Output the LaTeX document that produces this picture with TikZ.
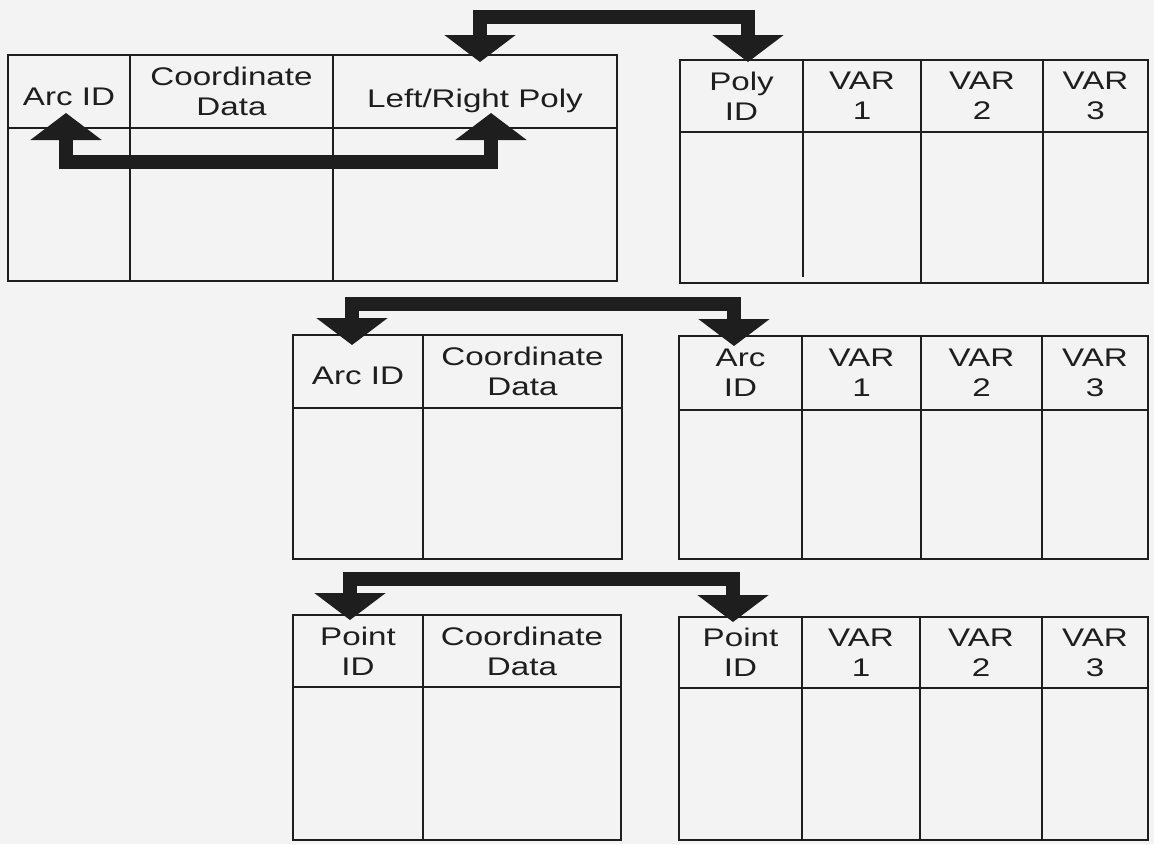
\documentclass[tikz,border=0pt]{standalone}
\usepackage{fontspec}
\setmainfont[FakeStretch=1.3]{Liberation Sans}
\usetikzlibrary{arrows.meta}
\definecolor{ink}{HTML}{1E1E1E}
\definecolor{paper}{HTML}{F3F3F3}
\newcommand\hcell[6]{\node[cell, minimum width={(#3-#2)*1pt}, minimum height={(#5-#4)*1pt}] (#1) at ({(#2+#3)/2},{(#4+#5)/2}) {#6};}
\newcommand\lowtext[2]{\raisebox{-#1}[0pt][0pt]{#2}}
\begin{document}
\begin{tikzpicture}[x=1pt,y=-1pt,
  line width=2.8pt, line join=miter, draw=ink,
  cell/.style={draw=ink, line width=2.8pt, inner sep=0pt, outer sep=0pt, align=center,
    text=ink, font=\fontsize{25.5}{30}\selectfont},
  body/.style={draw=ink, line width=2.8pt},
  link/.style={draw=ink, line width=14pt, line join=miter,
    {Triangle[width=70pt,length=27pt]}-{Triangle[width=70pt,length=27pt]}},
]
\fill[paper] (0,0) rectangle (1154,844);
\useasboundingbox (0,0) rectangle (1154,844);

% Table 1
\hcell{t1a}{8}{130}{55}{128}{\lowtext{14pt}{Arc ID}}
\hcell{t1b}{130}{333}{55}{128}{Coordinate\\Data}
\hcell{t1c}{333}{617}{55}{128}{\lowtext{16pt}{Left/Right Poly}}
\draw[body] (8,128) rectangle (617,281) (130,128) -- (130,281) (333,128) -- (333,281);

% Table 2
\hcell{t2a}{680}{803}{60}{132}{Poly\\ID}
\hcell{t2b}{803}{921}{60}{132}{VAR\\1}
\hcell{t2c}{921}{1043}{60}{132}{VAR\\2}
\hcell{t2d}{1043}{1148}{60}{132}{VAR\\3}
\draw[body] (680,132) rectangle (1148,283) (803,132) -- (803,277) (921,132) -- (921,283) (1043,132) -- (1043,283);

% Table 3
\hcell{t3a}{293}{423}{335}{408}{\lowtext{12.5pt}{Arc ID}}
\hcell{t3b}{423}{622}{335}{408}{Coordinate\\Data}
\draw[body] (293,408) rectangle (622,559) (423,408) -- (423,559);

% Table 4
\hcell{t4a}{679}{802}{336}{410}{Arc\\ID}
\hcell{t4b}{802}{921}{336}{410}{VAR\\1}
\hcell{t4c}{921}{1042}{336}{410}{VAR\\2}
\hcell{t4d}{1042}{1148}{336}{410}{VAR\\3}
\draw[body] (679,410) rectangle (1148,559) (802,410) -- (802,559) (921,410) -- (921,559) (1042,410) -- (1042,559);

% Table 5
\hcell{t5a}{293}{423}{615}{687}{Point\\ID}
\hcell{t5b}{423}{621}{615}{687}{Coordinate\\Data}
\draw[body] (293,687) rectangle (621,840) (423,687) -- (423,840);

% Table 6
\hcell{t6a}{679}{802}{617}{688}{Point\\ID}
\hcell{t6b}{802}{920}{617}{688}{VAR\\1}
\hcell{t6c}{920}{1042}{617}{688}{VAR\\2}
\hcell{t6d}{1042}{1148}{617}{688}{VAR\\3}
\draw[body] (679,688) rectangle (1148,840) (802,688) -- (802,840) (920,688) -- (920,840) (1042,688) -- (1042,840);

% Arrow end points
\coordinate (p1a) at (480,62);
\coordinate (p1b) at (748,62);
\coordinate (p2a) at (66,113);
\coordinate (p2b) at (491,113);
\coordinate (p3a) at (352,345);
\coordinate (p3b) at (734,346);
\coordinate (p4a) at (350,620);
\coordinate (p4b) at (733,622);

\draw[link] (p1a) -- (480,17) -| (p1b);
\draw[link] (p2a) -- (66,162) -| (p2b);
\draw[link] (p3a) -- (352,304) -| (p3b);
\draw[link] (p4a) -- (350,579) -| (p4b);
\end{tikzpicture}
\end{document}
